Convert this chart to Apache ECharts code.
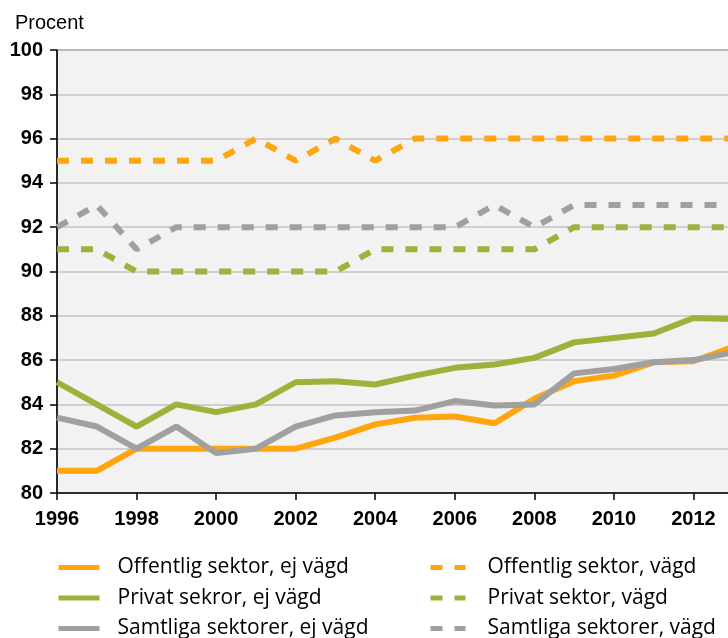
<!DOCTYPE html>
<html>
<head>
<meta charset="utf-8">
<script src="https://cdn.jsdelivr.net/npm/echarts@6/dist/echarts.min.js"></script>
<style>
  html, body { margin: 0; padding: 0; background: #fff; overflow: hidden; }
  /* the plot runs past the right edge of the window, as in the original */
  #chart { width: 790px; height: 638px; }
</style>
</head>
<body>
<div id="chart"></div>
<script>
var years = [1996, 1997, 1998, 1999, 2000, 2001, 2002, 2003, 2004, 2005, 2006, 2007, 2008, 2009, 2010, 2011, 2012, 2013];

// ej vägd (solid)
var offentligEj = [81, 81, 82, 82, 82, 82, 82, 82.5, 83.1, 83.4, 83.45, 83.15, 84.25, 85.05, 85.3, 85.9, 85.95, 86.6];
var privatEj = [85, 84, 83, 84, 83.65, 84, 85, 85.05, 84.9, 85.3, 85.65, 85.8, 86.1, 86.8, 87, 87.2, 87.9, 87.85];
var samtligaEj = [83.4, 83, 82, 83, 81.8, 82, 83, 83.5, 83.65, 83.72, 84.15, 83.95, 84, 85.4, 85.6, 85.9, 86, 86.35];

// vägd (dashed)
var offentligVagd = [95, 95, 95, 95, 95, 96, 95, 96, 95, 96, 96, 96, 96, 96, 96, 96, 96, 96];
var privatVagd = [91, 91, 90, 90, 90, 90, 90, 90, 91, 91, 91, 91, 91, 92, 92, 92, 92, 92];
var samtligaVagd = [92, 93, 91, 92, 92, 92, 92, 92, 92, 92, 92, 93, 92, 93, 93, 93, 93, 93];

var names = [
  'Offentlig sektor, ej vägd', 'Privat sekror, ej vägd', 'Samtliga sektorer, ej vägd',
  'Offentlig sektor, vägd', 'Privat sektor, vägd', 'Samtliga sektorer, vägd'
];

var orange = '#ffa510';
var green = '#9bb23b';
var gray = '#a0a0a0';

function pairs(vals) {
  return vals.map(function (v, i) { return [years[i], v]; });
}

function line(name, vals, color, dashed) {
  return {
    name: name,
    type: 'line',
    data: pairs(vals),
    symbol: 'none',
    animation: false,
    lineStyle: { color: color, width: 6, type: dashed ? [12, 12] : 'solid', cap: 'butt' },
    itemStyle: { color: color }
  };
}

// one legend per entry, two columns of three rows
function legendItem(i) {
  var col = i < 3 ? 0 : 1;
  var row = i % 3;
  return {
    data: [names[i]],
    left: col ? 428 : 56,
    top: 557 + row * 30.5,
    padding: 0,
    itemWidth: col ? 35 : 41,
    itemHeight: 20,
    itemStyle: { opacity: 0 },
    lineStyle: { width: 5 },
    selectedMode: false,
    textStyle: {
      fontFamily: 'Open Sans, sans-serif',
      fontSize: 21,
      color: '#000',
      padding: [0, 0, 0, col ? 17 : 13]
    }
  };
}

var chart = echarts.init(document.getElementById('chart'));

var axisFont = { color: '#000', fontFamily: 'Liberation Sans, Arial, sans-serif', fontSize: 20, fontWeight: 'bold' };

chart.setOption({
  backgroundColor: '#fff',
  title: {
    text: 'Procent',
    left: 10,
    top: 8,
    textStyle: { fontFamily: 'Liberation Sans, Arial, sans-serif', fontSize: 20, fontWeight: 'normal', color: '#000' }
  },
  grid: {
    left: 57, top: 50, width: 716, height: 443,
    outerBoundsMode: 'none',
    show: true, backgroundColor: '#f2f2f2', borderColor: '#404040', borderWidth: 1
  },
  legend: [0, 1, 2, 3, 4, 5].map(legendItem),
  xAxis: {
    type: 'value',
    min: 1996, max: 2014, interval: 2,
    axisLine: { lineStyle: { color: '#000', width: 1.5 } },
    axisTick: { show: true, length: 7, lineStyle: { color: '#000', width: 1.5 } },
    splitLine: { show: false },
    axisLabel: Object.assign({ margin: 16, formatter: function (v) { return String(v); } }, axisFont)
  },
  yAxis: {
    type: 'value',
    min: 80, max: 100, interval: 2,
    axisLine: { show: true, lineStyle: { color: '#000', width: 1.5 } },
    axisTick: { show: true, length: 7, lineStyle: { color: '#000', width: 1.5 } },
    splitLine: { show: true, lineStyle: { color: '#c3c3c3', width: 1.5 } },
    axisLabel: Object.assign({ margin: 14 }, axisFont)
  },
  series: [
    line(names[0], offentligEj, orange, false),
    line(names[1], privatEj, green, false),
    line(names[2], samtligaEj, gray, false),
    line(names[3], offentligVagd, orange, true),
    line(names[4], privatVagd, green, true),
    line(names[5], samtligaVagd, gray, true)
  ]
});
</script>
</body>
</html>
